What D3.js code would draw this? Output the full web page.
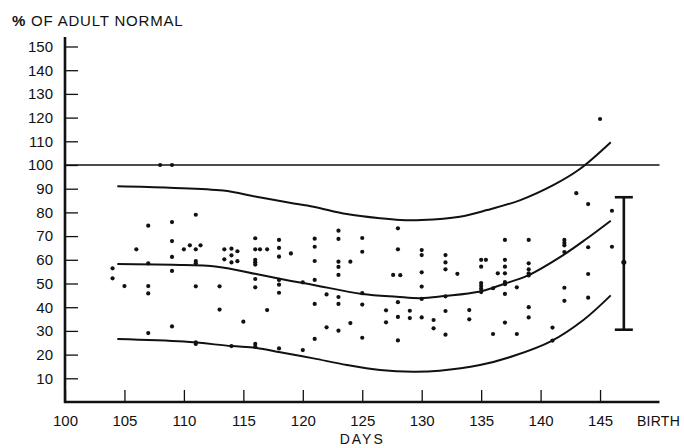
<!DOCTYPE html>
<html>
<head>
<meta charset="utf-8">
<script src="https://cdn.jsdelivr.net/npm/d3@7/dist/d3.min.js"></script>
<style>
  html, body { margin: 0; padding: 0; background: #fff; }
  svg { display: block; }
  text { font-family: "Liberation Sans", Arial, Helvetica, sans-serif; fill: #111; }
</style>
</head>
<body>
<svg id="chart" width="684" height="448"></svg>
<script>
// ---------- DATA ----------
const xTicks = [100, 105, 110, 115, 120, 125, 130, 135, 140, 145];
const yTicks = [10, 20, 30, 40, 50, 60, 70, 80, 90, 100, 110, 120, 130, 140, 150];
const referenceLevel = 100;

// scatter observations: [day, % of adult normal]
const observations = [
  [104, 56.4], [104, 52.2],
  [105, 48.9],
  [106, 64.4],
  [107, 74.4], [107, 58.5], [107, 48.9], [107, 45.8], [107, 29.1],
  [108, 100],
  [109, 100], [109, 75.9], [109, 67.9], [109, 61.2], [109, 55.3], [109, 31.9],
  [110, 64.4], [110.5, 66.1],
  [111, 79.0], [111, 64.4], [111, 59.5], [111, 58.5], [111, 48.8], [111, 25.2], [111, 24.5],
  [111.4, 66.1],
  [113, 48.8], [113, 39.0], [113.4, 64.4], [113.4, 60.2],
  [114, 64.7], [114, 61.9], [114, 58.9], [114, 23.6],
  [114.5, 63.6], [114.5, 59.4],
  [115, 33.9],
  [116, 69.1], [116, 64.4], [116, 60], [116, 59], [116, 58], [116, 51.9], [116, 48.4], [116, 24.5], [116, 23.3],
  [116.4, 64.4],
  [117, 64.4], [117, 38.8],
  [118, 68.4], [118, 65.0], [118, 61.3], [118, 51.5], [118, 49.5], [118, 46.1], [118, 22.6],
  [119, 62.7],
  [120, 50.5], [120, 21.9],
  [121, 68.9], [121, 65.5], [121, 59.5], [121, 51.5], [121, 41.4], [121, 26.6],
  [122, 45.4], [122, 31.5],
  [123, 72.3], [123, 68.8], [123, 59.2], [123, 57.0], [123, 53.6], [123, 44.3], [123, 41.4], [123, 30.1],
  [124, 59.2], [124, 33.3],
  [125, 69.2], [125, 63.4], [125, 45.9], [125, 41.1], [125, 27.1],
  [127, 38.7], [127, 33.6], [127.6, 53.6],
  [128, 73.3], [128, 64.4], [128, 42.1], [128, 35.9], [128, 26.0], [128.2, 53.5],
  [129, 38.5], [129, 35.4],
  [130, 64.1], [130, 62.0], [130, 54.7], [130, 48.7], [130, 43.5], [130, 35.7],
  [131, 34.6], [131, 31.1],
  [132, 62.0], [132, 58.9], [132, 56.0], [132, 44.6], [132, 38.4], [132, 28.4],
  [133, 54.1],
  [134, 38.8], [134, 34.9],
  [135, 60.0], [135, 57.1], [135, 50.2], [135, 49.0], [135, 47.8], [135, 46.4], [135.4, 60.0],
  [136, 48.0], [136, 28.7], [136.4, 54.3],
  [137, 68.4], [137, 60.0], [137, 57.1], [137, 54.3], [137, 50.6], [137, 49.7], [137, 45.6], [137, 33.5],
  [138, 48.4], [138, 28.7],
  [139, 68.4], [139, 58.5], [139, 56.0], [139, 54.3], [139, 53.4], [139, 40.0], [139, 35.7],
  [141, 31.4], [141, 25.9],
  [142, 68.4], [142, 67.2], [142, 66.1], [142, 63.3], [142, 48.2], [142, 42.7],
  [143, 88.1],
  [144, 83.5], [144, 65.3], [144, 54.0], [144, 44.0],
  [145, 119.4],
  [146, 80.7], [146, 65.5]
];

// envelope curves: [day, value]
const upperCurve = [
  [104.4, 91.0], [108.8, 90.4], [113.3, 89.2], [116.1, 86.6], [118.9, 84.1], [120.9, 82.4],
  [123.7, 79.3], [126.5, 77.5], [128.2, 76.8], [130.0, 76.8], [133.2, 78.2], [135.5, 81.0],
  [138.3, 85.2], [141.1, 91.6], [143.3, 98.3], [145.9, 109.6]
];
const middleCurve = [
  [104.4, 58.2], [109.0, 57.9], [112.8, 57.1], [116.1, 54.0], [118.9, 51.2], [120.9, 49.4],
  [125.0, 45.6], [127.9, 44.4], [129.9, 43.8], [131.9, 44.7], [134.8, 46.5], [136.9, 49.8],
  [138.9, 53.3], [141.9, 62.0], [143.9, 69.0], [145.9, 76.5]
];
const lowerCurve = [
  [104.4, 26.6], [110.0, 25.5], [114.0, 23.6], [116.1, 22.8], [118.1, 21.0], [120.9, 18.4],
  [123.7, 15.6], [126.5, 13.5], [129.3, 12.8], [131.5, 13.2], [134.9, 15.6], [137.7, 19.4],
  [140.9, 25.7], [143.6, 34.6], [145.9, 45.0]
];

// value at birth: mean with range
const birthDay = 147;
const birthMean = 59;
const birthLow = 30.5;
const birthHigh = 86.4;

// ---------- CHART ----------
const svg = d3.select("#chart");
const x = d3.scaleLinear().domain([100, 150]).range([65, 659.5]);
const y = d3.scaleLinear().domain([0, 150]).range([402, 46.5]);

// title
const title = svg.append("text")
  .attr("x", 12).attr("y", 26)
  .style("font-size", "15px").style("letter-spacing", "0.8px");
title.append("tspan").style("font-weight", "bold").text("%");
title.append("tspan").text(" OF ADULT NORMAL");

// y axis
const yAxis = svg.append("g").attr("transform", `translate(${x(100)},0)`)
  .call(d3.axisLeft(y).tickValues(yTicks).tickSize(-13).tickSizeOuter(0).tickPadding(12));
yAxis.select(".domain").remove();
yAxis.selectAll(".tick line").attr("stroke", "#111").attr("stroke-width", 1.3);
yAxis.selectAll(".tick text")
  .style("font-size", "15px").style("font-family", "'Liberation Sans', Arial, sans-serif")
  .attr("fill", "#111");

// x axis
const xAxis = svg.append("g").attr("transform", `translate(0,${y(0)})`)
  .call(d3.axisBottom(x).tickValues(xTicks).tickSize(-12).tickSizeOuter(0).tickPadding(13));
xAxis.select(".domain").remove();
xAxis.selectAll(".tick line").attr("stroke", "#111").attr("stroke-width", 1.3);
xAxis.selectAll(".tick text")
  .style("font-size", "15px").style("font-family", "'Liberation Sans', Arial, sans-serif")
  .attr("fill", "#111");

// axis lines
svg.append("line")
  .attr("x1", x(100)).attr("x2", x(100)).attr("y1", y(0) + 1).attr("y2", y(154))
  .attr("stroke", "#111").attr("stroke-width", 2.6);
svg.append("line")
  .attr("x1", x(100) - 1).attr("x2", x(150)).attr("y1", y(0)).attr("y2", y(0))
  .attr("stroke", "#111").attr("stroke-width", 2.6);

// BIRTH and DAYS labels
svg.append("text").attr("x", x(150) - 1).attr("y", 426)
  .attr("text-anchor", "middle").style("font-size", "14px").style("letter-spacing", "0.3px")
  .text("BIRTH");
svg.append("text").attr("x", x(125)).attr("y", 444)
  .attr("text-anchor", "middle").style("font-size", "14px").style("letter-spacing", "2px")
  .text("DAYS");

// reference line at 100%
svg.append("line")
  .attr("x1", x(100)).attr("x2", x(150)).attr("y1", y(referenceLevel)).attr("y2", y(referenceLevel))
  .attr("stroke", "#111").attr("stroke-width", 1.3);

// curves
const line = d3.line().x(d => x(d[0])).y(d => y(d[1])).curve(d3.curveCatmullRom.alpha(0.5));
[upperCurve, middleCurve, lowerCurve].forEach(c => {
  svg.append("path").datum(c).attr("d", line)
    .attr("fill", "none").attr("stroke", "#111").attr("stroke-width", 2);
});

// points
svg.append("g").selectAll("circle").data(observations).join("circle")
  .attr("cx", d => x(d[0])).attr("cy", d => y(d[1])).attr("r", 2.1).attr("fill", "#111");

// birth error bar
const bx = x(birthDay);
svg.append("line").attr("x1", bx).attr("x2", bx).attr("y1", y(birthLow)).attr("y2", y(birthHigh))
  .attr("stroke", "#111").attr("stroke-width", 2.6);
[birthLow, birthHigh].forEach(v => {
  svg.append("line").attr("x1", bx - 9).attr("x2", bx + 9).attr("y1", y(v)).attr("y2", y(v))
    .attr("stroke", "#111").attr("stroke-width", 2.6);
});
svg.append("circle").attr("cx", bx).attr("cy", y(birthMean)).attr("r", 2.5).attr("fill", "#111");
</script>
</body>
</html>
